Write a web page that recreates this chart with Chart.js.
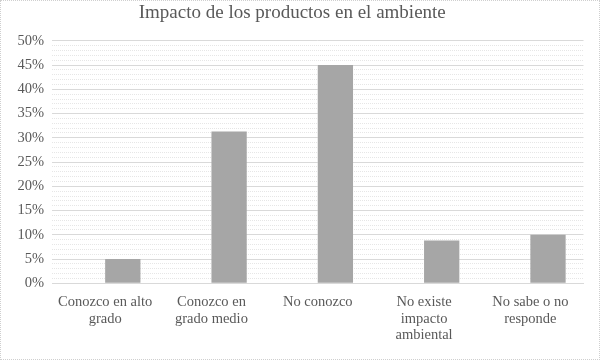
<!DOCTYPE html>
<html>
<head>
<meta charset="utf-8">
<script src="https://cdn.jsdelivr.net/npm/chart.js@4/dist/chart.umd.min.js"></script>
<style>
  body { margin: 0; background: #fff; }
  #wrap { width: 600px; height: 360px; box-sizing: border-box; border: 1px dotted #cfcfcf; position: relative; }
  #wrap canvas { display: block; }
</style>
</head>
<body>
<div id="wrap"><canvas id="grafico" width="598" height="358"></canvas></div>
<script>
// datos
const categorias = [
    ['Conozco en alto', 'grado'],
    ['Conozco en', 'grado medio'],
    'No conozco',
    ['No existe', 'impacto', 'ambiental'],
    ['No sabe o no', 'responde']
];
const valores = [5, 31.3, 45, 8.8, 10];
const serieVacia = [null, null, null, null, null];
const ticksY = [0, 5, 10, 15, 20, 25, 30, 35, 40, 45, 50];

const colorTexto = '#595959';
const fuente = 'Liberation Serif, Times New Roman, serif';

const ctx = document.getElementById('grafico').getContext('2d');
new Chart(ctx, {
    type: 'bar',
    data: {
        labels: categorias,
        datasets: [
            { label: '', data: serieVacia, backgroundColor: '#a6a6a6' },
            { label: 'Impacto', data: valores, backgroundColor: '#a6a6a6' }
        ]
    },
    options: {
        responsive: false,
        animation: false,
        layout: { padding: { left: 0, right: 15.5, top: 0, bottom: 0 } },
        datasets: { bar: { categoryPercentage: 0.664, barPercentage: 1 } },
        plugins: {
            legend: { display: false },
            tooltip: { enabled: false },
            title: {
                display: true,
                text: 'Impacto de los productos en el ambiente',
                color: colorTexto,
                font: { family: fuente, size: 19, weight: 'normal' },
                padding: { top: 1, bottom: 16 }
            }
        },
        scales: {
            x: {
                grid: { display: false },
                border: { display: true, color: '#d9d9d9' },
                ticks: {
                    color: colorTexto,
                    font: { family: fuente, size: 14.5, lineHeight: 1.14 },
                    padding: 3,
                    maxRotation: 0,
                    autoSkip: false
                },
                afterFit: scale => { scale.height = 75.7; }
            },
            y: {
                min: 0,
                max: 50,
                border: {
                    display: false,
                    dash: c => (c.tick && ticksY.includes(c.tick.value)) ? [] : [1, 1]
                },
                grid: {
                    drawTicks: false,
                    color: c => (c.tick && ticksY.includes(c.tick.value)) ? '#d9d9d9' : '#e6e6e6'
                },
                ticks: {
                    stepSize: 1,
                    autoSkip: false,
                    padding: 8,
                    color: colorTexto,
                    font: { family: fuente, size: 14.5 },
                    callback: v => ticksY.includes(v) ? v + '%' : ''
                },
                afterFit: scale => { scale.width = 51; }
            }
        }
    }
});
</script>
</body>
</html>
